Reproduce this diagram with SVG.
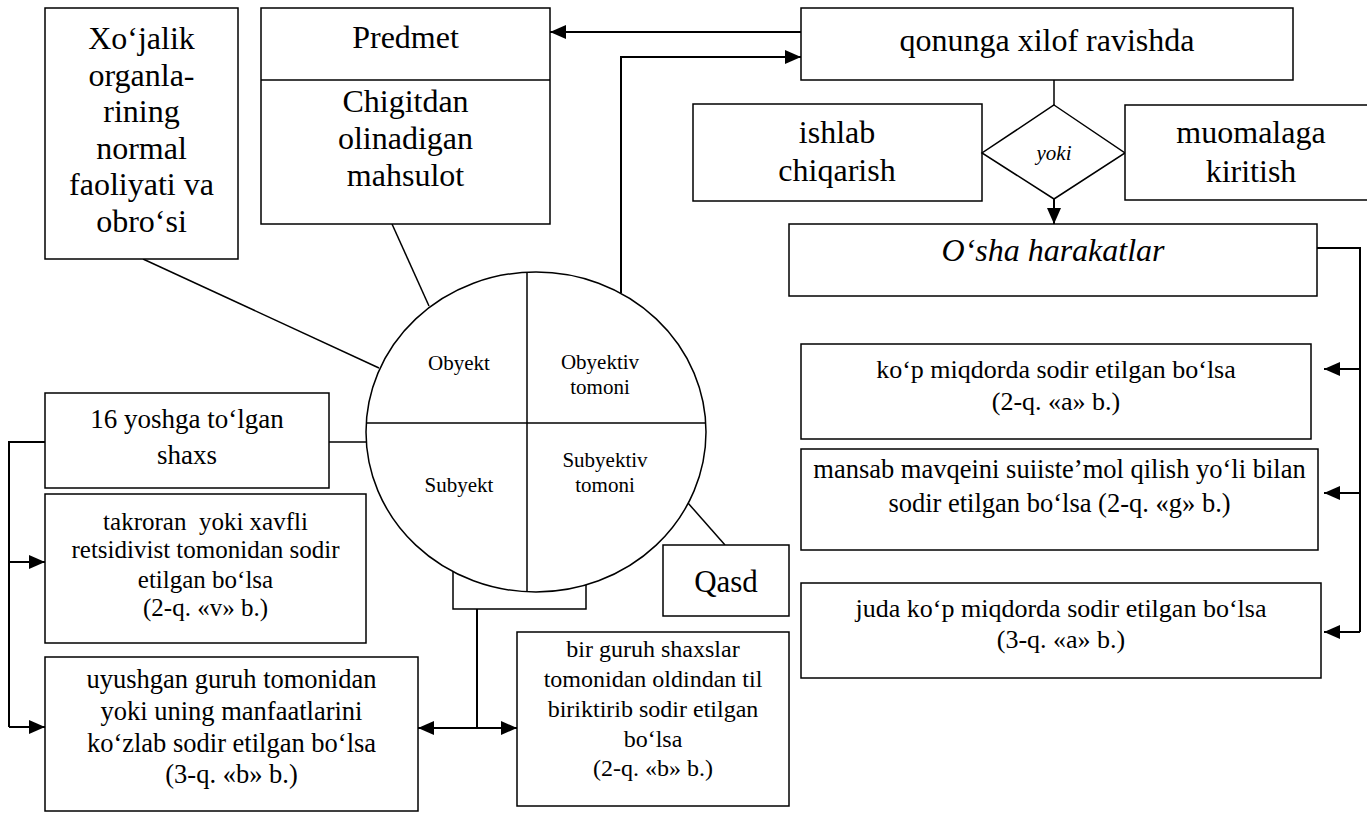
<svg xmlns="http://www.w3.org/2000/svg" width="1367" height="813" viewBox="0 0 1367 813" font-family="'Liberation Serif', 'Times New Roman', Times, 'Nimbus Roman', 'DejaVu Serif', serif">
<defs>
<marker id="ah" viewBox="0 0 16 14" refX="16" refY="7" markerWidth="16" markerHeight="14" markerUnits="userSpaceOnUse" orient="auto-start-reverse"><path d="M0,0 L16,7 L0,14 z" fill="#000"/></marker>
</defs>
<style>
.box{fill:#fff;stroke:#000;stroke-width:1.5}
.ln{fill:none;stroke:#000;stroke-width:1.5}
.ar{fill:none;stroke:#000;stroke-width:2;marker-end:url(#ah)}
text{font-family:'Liberation Serif','Times New Roman',Times,'Nimbus Roman','DejaVu Serif',serif;fill:#000;text-anchor:middle}
.f32{font-size:32px}
.f27{font-size:27px}
.f26{font-size:26px}
.f25{font-size:25px}
.f24{font-size:24px}
.f21{font-size:21px}
.it{font-style:italic}
</style>
<rect width="1367" height="813" fill="#fff"/>
<g id="connectors">
<line class="ln" x1="143" y1="259" x2="379" y2="368"/>
<line class="ln" x1="392" y1="224" x2="429" y2="306"/>
<line class="ln" x1="329" y1="442" x2="366" y2="442"/>
<line class="ln" x1="688" y1="503" x2="725" y2="545"/>
<line class="ln" x1="1054" y1="80" x2="1054" y2="105"/>
<path class="ln" d="M453,571.6 V609 H586 V585"/>
<line class="ar" x1="801" y1="32" x2="550" y2="32"/>
<path class="ar" d="M621,293 V57 H801"/>
<path class="ar" d="M1054,199 V224"/>
<path class="ln" style="stroke-width:2" d="M1317,248 H1360 V632"/>
<path class="ar" d="M1360,369 H1324"/>
<path class="ar" d="M1360,493 H1324"/>
<path class="ar" d="M1360,632 H1324"/>
<path class="ln" style="stroke-width:2" d="M45,442 H9 V727"/>
<path class="ar" d="M9,562 H45"/>
<path class="ar" d="M9,727 H45"/>
<path class="ln" style="stroke-width:2" d="M477,609 V728"/>
<line class="ar" style="marker-start:url(#ah)" x1="418" y1="728" x2="517" y2="728"/>
</g>
<g id="obyekt-box">
<rect class="box" x="45" y="8" width="193" height="251"/>
<text class="f32"><tspan x="141.5" y="49">Xo‘jalik</tspan><tspan x="141.5" y="85.6">organla-</tspan><tspan x="141.5" y="122.2">rining</tspan><tspan x="141.5" y="158.8">normal</tspan><tspan x="141.5" y="195.4">faoliyati va</tspan><tspan x="141.5" y="232">obro‘si</tspan></text>
</g>
<g id="predmet-box">
<rect class="box" x="261" y="8" width="289" height="216"/>
<line class="ln" x1="261" y1="80" x2="550" y2="80"/>
<text class="f32"><tspan x="405.5" y="48">Predmet</tspan><tspan x="405.5" y="112">Chigitdan</tspan><tspan x="405.5" y="149">olinadigan</tspan><tspan x="405.5" y="186">mahsulot</tspan></text>
</g>
<g id="qonunga-box">
<rect class="box" x="801" y="8" width="492" height="72"/>
<text class="f32" x="1047" y="51">qonunga xilof ravishda</text>
</g>
<g id="ishlab-box">
<rect class="box" x="693" y="104" width="289" height="97"/>
<text class="f32"><tspan x="837" y="143">ishlab</tspan><tspan x="837" y="181">chiqarish</tspan></text>
</g>
<g id="yoki-diamond">
<polygon class="box" points="1054,105 1125,153 1054,199 982,153"/>
<text class="f21 it" x="1054" y="160">yoki</text>
</g>
<g id="muomalaga-box">
<rect class="box" x="1125" y="105" width="260" height="95"/>
<text class="f32"><tspan x="1251" y="143">muomalaga</tspan><tspan x="1251" y="182">kiritish</tspan></text>
</g>
<g id="osha-box">
<rect class="box" x="789" y="224" width="528" height="72"/>
<text class="f32 it" x="1053" y="261">O‘sha harakatlar</text>
</g>
<g id="kop-box">
<rect class="box" x="801" y="344" width="510" height="95"/>
<text class="f26"><tspan x="1056" y="378">ko‘p miqdorda sodir etilgan bo‘lsa</tspan><tspan x="1056" y="410">(2-q. «a» b.)</tspan></text>
</g>
<g id="mansab-box">
<rect class="box" x="801" y="449" width="517" height="101"/>
<text class="f26" style="font-size:26.5px"><tspan x="1059.5" y="478">mansab mavqeini suiiste’mol qilish yo‘li bilan</tspan><tspan x="1059.5" y="512">sodir etilgan bo‘lsa (2-q. «g» b.)</tspan></text>
</g>
<g id="juda-box">
<rect class="box" x="801" y="583" width="520" height="95"/>
<text class="f26"><tspan x="1061" y="617">juda ko‘p miqdorda sodir etilgan bo‘lsa</tspan><tspan x="1061" y="648">(3-q. «a» b.)</tspan></text>
</g>
<g id="circle">
<ellipse class="box" cx="536" cy="432" rx="170" ry="160"/>
<line class="ln" x1="366.3" y1="423" x2="705.7" y2="423"/>
<line class="ln" x1="527" y1="272.2" x2="527" y2="591.8"/>
<text class="f21"><tspan x="459" y="370">Obyekt</tspan></text>
<text class="f21"><tspan x="600" y="369">Obyektiv</tspan><tspan x="600" y="394">tomoni</tspan></text>
<text class="f21"><tspan x="459" y="492">Subyekt</tspan></text>
<text class="f21"><tspan x="605" y="467">Subyektiv</tspan><tspan x="605" y="492">tomoni</tspan></text>
</g>
<g id="subyekt-box">
<rect class="box" x="45" y="393" width="284" height="95"/>
<text class="f27"><tspan x="187" y="428">16 yoshga to‘lgan</tspan><tspan x="187" y="464">shaxs</tspan></text>
</g>
<g id="takroran-box">
<rect class="box" x="45" y="494" width="321" height="149"/>
<text class="f25" xml:space="preserve"><tspan x="205.5" y="530">takroran  yoki xavfli</tspan><tspan x="205.5" y="558">retsidivist tomonidan sodir</tspan><tspan x="205.5" y="588">etilgan bo‘lsa</tspan><tspan x="205.5" y="616">(2-q. «v» b.)</tspan></text>
</g>
<g id="uyushgan-box">
<rect class="box" x="45" y="657" width="373" height="154"/>
<text class="f27" style="font-size:26.5px"><tspan x="231.5" y="688">uyushgan guruh tomonidan</tspan><tspan x="231.5" y="720">yoki uning manfaatlarini</tspan><tspan x="231.5" y="752">ko‘zlab sodir etilgan bo‘lsa</tspan><tspan x="231.5" y="783">(3-q. «b» b.)</tspan></text>
</g>
<g id="birguruh-box">
<rect class="box" x="517" y="632" width="272" height="174"/>
<text class="f24"><tspan x="653" y="657">bir guruh shaxslar</tspan><tspan x="653" y="687">tomonidan oldindan til</tspan><tspan x="653" y="717">biriktirib sodir etilgan</tspan><tspan x="653" y="747">bo‘lsa</tspan><tspan x="653" y="776">(2-q. «b» b.)</tspan></text>
</g>
<g id="qasd-box">
<rect class="box" x="663" y="545" width="126" height="71"/>
<text class="f32" style="font-size:31px" x="726" y="592">Qasd</text>
</g>
</svg>
